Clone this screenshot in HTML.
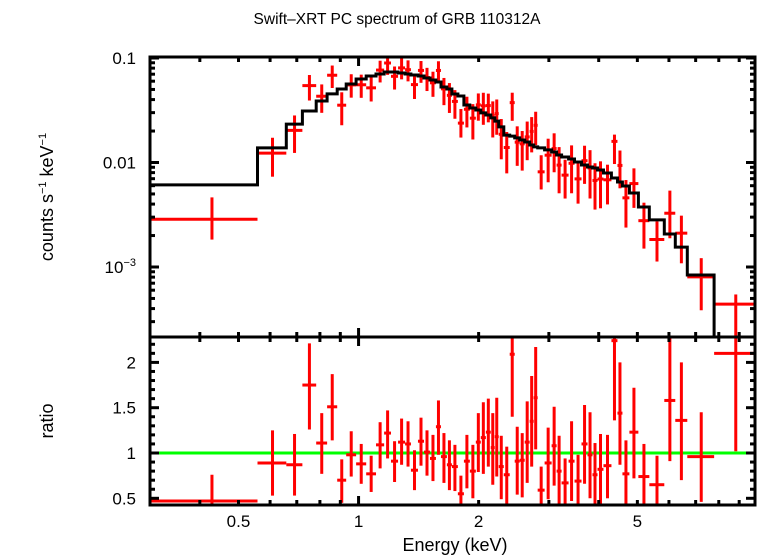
<!DOCTYPE html>
<html><head><meta charset="utf-8"><style>
html,body{margin:0;padding:0;background:#fff;}
svg{display:block;font-family:"Liberation Sans",sans-serif;}
</style></head><body>
<svg id="chart" width="758" height="556" viewBox="0 0 758 556" xmlns="http://www.w3.org/2000/svg">
<text x="397" y="24" font-size="15.5" text-anchor="middle">Swift–XRT PC spectrum of GRB 110312A</text>
<text transform="translate(53,197) rotate(-90)" font-size="18" text-anchor="middle">counts s<tspan font-size="11" dy="-7">−1</tspan><tspan dy="7"> keV</tspan><tspan font-size="11" dy="-7">−1</tspan></text>
<text transform="translate(53,421) rotate(-90)" font-size="18" text-anchor="middle">ratio</text>
<text x="455" y="551" font-size="18" text-anchor="middle">Energy (keV)</text>
<g id="marks"></g>
<g id="axes"></g>
</svg>
<script>
const binLo=[0.300,0.558,0.659,0.723,0.783,0.834,0.884,0.931,0.986,1.045,1.106,1.159,1.206,1.256,1.308,1.353,1.409,1.459,1.510,1.563,1.609,1.665,1.714,1.774,1.837,1.901,1.968,2.025,2.085,2.145,2.195,2.246,2.312,2.393,2.463,2.535,2.609,2.685,2.748,2.812,2.927,3.048,3.137,3.228,3.361,3.479,3.622,3.750,3.859,3.972,4.111,4.305,4.457,4.587,4.775,5.029,5.358,5.841,6.223,6.670,7.788];
const binHi=[0.558,0.659,0.723,0.783,0.834,0.884,0.931,0.986,1.045,1.106,1.159,1.206,1.256,1.308,1.353,1.409,1.459,1.510,1.563,1.609,1.665,1.714,1.774,1.837,1.901,1.968,2.025,2.085,2.145,2.195,2.246,2.312,2.393,2.463,2.535,2.609,2.685,2.748,2.812,2.927,3.048,3.137,3.228,3.361,3.479,3.622,3.750,3.859,3.972,4.111,4.305,4.457,4.587,4.775,5.029,5.358,5.841,6.223,6.670,7.788,9.86];
const modelVals=[0.0061,0.0138,0.0233,0.0311,0.0388,0.0453,0.0505,0.0564,0.0630,0.0673,0.0703,0.0734,0.0734,0.0718,0.0703,0.0687,0.0673,0.0644,0.0616,0.0589,0.0528,0.0505,0.0452,0.0433,0.0355,0.0332,0.0318,0.0298,0.0285,0.0267,0.0249,0.0219,0.0183,0.0179,0.0172,0.0164,0.0157,0.0147,0.0141,0.0138,0.0132,0.0126,0.0118,0.0113,0.0108,0.0101,0.00946,0.00905,0.00886,0.00848,0.00794,0.00711,0.00651,0.00596,0.00511,0.00375,0.00282,0.00207,0.00155,0.000838,0.00021];
const ratioVals=[0.47,0.89,0.87,1.75,1.11,1.51,0.70,0.98,0.88,0.77,1.09,1.22,0.91,1.12,1.10,0.81,1.13,1.01,0.94,1.29,0.96,0.87,0.85,0.55,0.91,0.80,1.12,1.17,1.23,1.06,1.18,0.85,0.76,2.09,0.91,0.92,1.12,1.35,1.61,0.59,0.89,1.08,0.80,0.67,0.91,0.69,1.10,0.98,0.76,0.82,0.86,2.24,1.44,0.77,1.23,0.74,0.65,1.58,1.36,0.96,2.10];
const ratioHi=[0.76,1.25,1.21,2.21,1.44,1.87,0.93,1.24,1.10,0.97,1.34,1.47,1.13,1.38,1.35,1.03,1.39,1.25,1.20,1.58,1.22,1.14,1.09,0.75,1.20,1.09,1.44,1.56,1.60,1.44,1.61,1.19,1.07,2.60,1.29,1.22,1.57,1.85,2.17,0.85,1.28,1.51,1.19,0.94,1.35,0.98,1.53,1.45,1.11,1.21,1.20,2.60,2.00,1.14,1.72,1.10,0.97,2.60,2.00,1.45,2.60];
const ratioLo=[0.30,0.53,0.53,1.26,0.77,1.14,0.45,0.74,0.66,0.57,0.83,0.94,0.68,0.87,0.85,0.59,0.86,0.75,0.69,0.98,0.67,0.59,0.58,0.40,0.61,0.50,0.79,0.77,0.85,0.65,0.74,0.49,0.43,1.40,0.54,0.51,0.67,0.85,1.04,0.40,0.49,0.64,0.43,0.40,0.47,0.40,0.66,0.50,0.40,0.43,0.50,1.36,0.87,0.40,0.72,0.40,0.40,0.91,0.70,0.46,1.02];
const xTickLabels=["0.5","1","2","5"];
const xTickVals=[0.5,1,2,5];
const ratioTickVals=[0.5,1,1.5,2];
const ratioTickLabels=["0.5","1","1.5","2"];

const NS="http://www.w3.org/2000/svg";
const X0=150,X1=755,TOP0=57,TOP1=337,BOT1=505;
const EMIN=0.3,EMAX=9.86;
function xs(e){return X0+(Math.log10(e)-Math.log10(EMIN))/(Math.log10(EMAX)-Math.log10(EMIN))*(X1-X0);}
function ys(v){return 58+(-1-Math.log10(v))*104.5;}
function yr(r){return 453-(r-1)*90.6;}
function clampT(y){return Math.max(TOP0,Math.min(TOP1,y));}
function clampB(y){return Math.max(TOP1,Math.min(BOT1,y));}
function mk(tag,attrs,parent){const el=document.createElementNS(NS,tag);for(const k in attrs)el.setAttribute(k,attrs[k]);parent.appendChild(el);return el;}
const marks=document.getElementById('marks');
const axes=document.getElementById('axes');

const g1=mk('line',{x1:X0,x2:X1,y1:yr(1),y2:yr(1),stroke:'#00ff00','stroke-width':3},marks);



for(let i=0;i<binLo.length;i++){
  const xl=xs(binLo[i]),xh=xs(binHi[i]),xc=xs((binLo[i]+binHi[i])/2);
  const m=modelVals[i];
  const yv=ys(ratioVals[i]*m);
  const gt=mk('g',{stroke:'#ff0000','stroke-width':3},marks);
  
  
  if(yv>=TOP0&&yv<=TOP1) mk('line',{x1:xl,x2:xh,y1:yv,y2:yv},gt);
  const ya=clampT(ys(ratioHi[i]*m)),yb=clampT(ys(ratioLo[i]*m));
  if(yb>ya) mk('line',{x1:xc,x2:xc,y1:ya,y2:yb},gt);
  const rv=yr(ratioVals[i]);
  const gb=mk('g',{stroke:'#ff0000','stroke-width':3},marks);
  
  
  if(rv>=TOP1&&rv<=BOT1) mk('line',{x1:xl,x2:xh,y1:rv,y2:rv},gb);
  const ra=clampB(yr(ratioHi[i])),rb=clampB(yr(ratioLo[i]));
  if(rb>ra) mk('line',{x1:xc,x2:xc,y1:ra,y2:rb},gb);
}

let d='';
for(let i=0;i<binLo.length;i++){
  const y=clampT(ys(modelVals[i]));
  d+=(i===0?'M':'L')+xs(binLo[i]).toFixed(1)+','+y.toFixed(1)+' L'+xs(binHi[i]).toFixed(1)+','+y.toFixed(1)+' ';
}
const mp=mk('path',{d:d,fill:'none',stroke:'#000','stroke-width':3},marks);



const fr1=mk('rect',{x:X0,y:TOP0,width:X1-X0,height:TOP1-TOP0,fill:'none',stroke:'#000','stroke-width':3},axes);


const fr2=mk('rect',{x:X0,y:TOP1,width:X1-X0,height:BOT1-TOP1,fill:'none',stroke:'#000','stroke-width':3},axes);



const xt=mk('g',{stroke:'#000','stroke-width':3},axes);


for(let dec=0.1;dec<20;dec*=10){
  for(let k=1;k<10;k++){
    const e=k*dec; if(e<EMIN||e>EMAX)continue;
    const x=xs(e),L=(k===1)?9:5;
    [TOP0,TOP1,BOT1].forEach(y=>{
      if(y!==TOP0) mk('line',{x1:x,x2:x,y1:y,y2:y-L},xt);
      if(y!==BOT1) mk('line',{x1:x,x2:x,y1:y,y2:y+L},xt);
    });
  }
}
for(let i=0;i<xTickVals.length;i++){
  const t=mk('text',{x:xs(xTickVals[i]),y:527,'font-size':17,'text-anchor':'middle'},axes);
  t.textContent=xTickLabels[i];
  
  
}
const yt=mk('g',{stroke:'#000','stroke-width':3},axes);


for(let dec=1e-4;dec<0.2;dec*=10){
  for(let k=1;k<10;k++){
    const v=k*dec,y=ys(v); if(y<TOP0||y>TOP1)continue;
    const L=(k===1)?9:5;
    mk('line',{x1:X0,x2:X0+L,y1:y,y2:y},yt);
    mk('line',{x1:X1,x2:X1-L,y1:y,y2:y},yt);
  }
}
const lab=[[0.1,'0.1'],[0.01,'0.01']];
lab.forEach(p=>{const t=mk('text',{x:136,y:ys(p[0])+6,'font-size':17,'text-anchor':'end'},axes);t.textContent=p[1];
  
  });
const t3=mk('text',{x:136,y:ys(0.001)+6,'font-size':17,'text-anchor':'end'},axes);


t3.innerHTML='10<tspan font-size="11" dy="-7">−3</tspan>';
const rt=mk('g',{stroke:'#000','stroke-width':3},axes);


for(let r=0.5;r<=2.25;r+=0.1){
  const y=yr(r),maj=Math.abs(r*2-Math.round(r*2))<1e-6,L=maj?9:5;
  mk('line',{x1:X0,x2:X0+L,y1:y,y2:y},rt);
  mk('line',{x1:X1,x2:X1-L,y1:y,y2:y},rt);
}
for(let i=0;i<ratioTickVals.length;i++){
  const t=mk('text',{x:136,y:yr(ratioTickVals[i])+6,'font-size':17,'text-anchor':'end'},axes);
  t.textContent=ratioTickLabels[i];
  
  
}
</script>
</body></html>
